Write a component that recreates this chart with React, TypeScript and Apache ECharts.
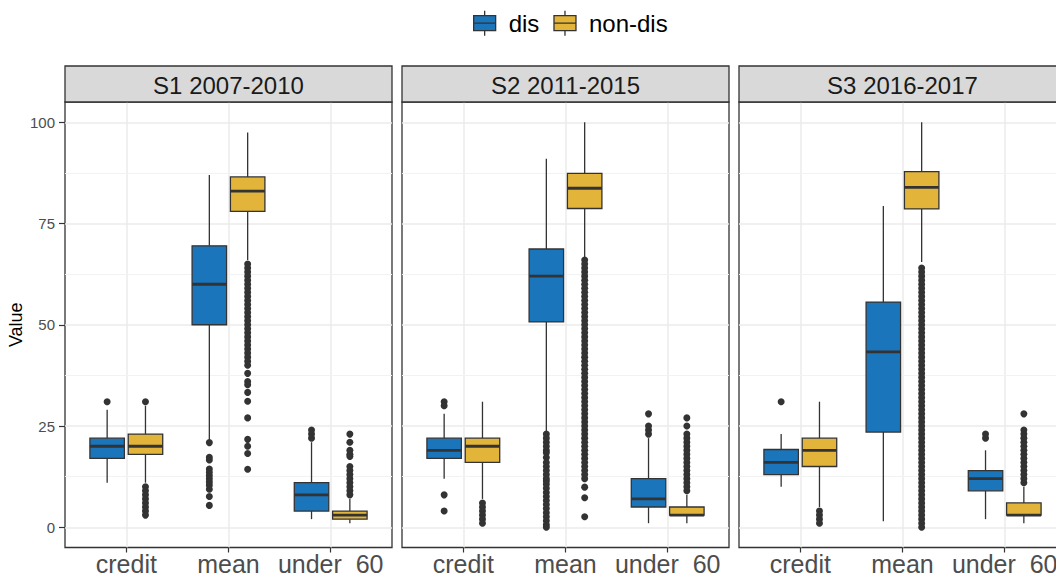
import React, { useEffect, useRef } from 'react';
import * as echarts from 'echarts';

// ---------- data ----------
const categories = ['credit', 'mean', 'under  60'];
const panelTitles = ['S1 2007-2010', 'S2 2011-2015', 'S3 2016-2017'];
const groupNames = ['dis', 'non-dis'];
const groupColors = ['#1B75BB', '#E3B43A'];
const yTicks = [0, 25, 50, 75, 100];
const yMinorTicks = [12.5, 37.5, 62.5, 87.5];
const xTicks = [1, 2, 3];

// box stats per category: [lower whisker, Q1, median, Q3, upper whisker]
const s1DisBoxes = [[11, 17, 20, 22, 29], [21.5, 50, 60, 69.5, 87], [2, 4, 8, 11, 21]];
const s1NonDisBoxes = [[11, 18, 20, 23, 30], [66, 78, 83, 86.5, 97.5], [1, 2, 3, 4, 7]];
const s2DisBoxes = [[12, 17, 19, 22, 28], [23.5, 50.7, 62, 68.7, 91], [1, 5, 7, 12, 22]];
const s2NonDisBoxes = [[7, 16, 20, 22, 31], [66.5, 78.7, 83.7, 87.4, 100], [1, 3, 3, 5, 8]];
const s3DisBoxes = [[10, 13, 16, 19.2, 23], [1.5, 23.5, 43.3, 55.6, 79.3], [2, 9, 12, 14, 19]];
const s3NonDisBoxes = [[5, 15, 19, 22, 31], [65.5, 78.6, 83.9, 87.8, 100], [1, 3, 3, 6, 10]];

// outliers per category
const s1DisOutliers = [
  [31],
  [20.9, 17.3, 16.6, 14.4, 13.6, 12.8, 12, 11.2, 10.4, 9.4, 7.6, 5.4],
  [22, 23, 24],
];
const s1NonDisOutliers = [
  [31, 10, 9, 8, 7, 6, 5, 4, 3],
  [65, 64, 63, 62, 61, 60, 59, 58, 57, 56, 55, 54, 53, 52, 51, 50, 49, 48, 47, 46, 45, 44, 43,
    42, 41, 40, 38, 36, 35.2, 33.3, 31.1, 27, 21.7, 20, 18.2, 14.3],
  [8, 9, 10, 11, 12, 13, 14, 15, 17.5, 18, 19, 21, 23],
];
const s2DisOutliers = [
  [31, 30, 8, 4],
  [23, 22, 21, 20, 19, 18.4, 17.2, 16, 15, 14, 13, 12, 11.4, 10.6, 9.6, 8.6, 7.6, 6.6, 5.6, 4.6, 3.6, 2.6, 1.6, 0.6, 0],
  [23, 24, 25, 28],
];
const s2NonDisOutliers = [
  [6, 5, 4, 3, 2, 1],
  [66, 65, 64, 63, 62, 61, 60, 59, 58, 57, 56, 55, 54, 53, 52, 51, 50, 49, 48, 47, 46, 45, 44, 43, 42, 41, 40,
    39, 38, 37, 36, 35, 34, 33, 32, 31, 30, 29, 28, 27, 26, 25, 24, 23, 22, 21, 20, 19, 18, 17, 16, 15, 14, 13, 12,
    9.9, 7.3, 2.6],
  [9, 10, 11, 12, 13, 14, 15, 16, 17, 18, 19, 20, 21, 22, 23, 25, 27],
];
const s3DisOutliers = [
  [31],
  [],
  [22, 23],
];
const s3NonDisOutliers = [
  [4, 3, 2, 1],
  [64, 63, 62, 61, 60, 59, 58, 57, 56, 55, 54, 53, 52, 51, 50, 49, 48, 47, 46, 45, 44, 43, 42, 41, 40,
    39, 38, 37, 36, 35, 34, 33, 32, 31, 30, 29, 28, 27, 26, 25, 24, 23, 22, 21, 20, 19, 18, 17, 16, 15, 14, 13, 12,
    11, 10, 9, 8, 7, 6, 5, 4, 3, 2, 1, 0],
  [11, 12, 13, 14, 15, 16, 17, 18, 19, 20, 21, 22, 23, 24, 28],
];

const boxesByPanel = [
  [s1DisBoxes, s1NonDisBoxes],
  [s2DisBoxes, s2NonDisBoxes],
  [s3DisBoxes, s3NonDisBoxes],
];
const outliersByPanel = [
  [s1DisOutliers, s1NonDisOutliers],
  [s2DisOutliers, s2NonDisOutliers],
  [s3DisOutliers, s3NonDisOutliers],
];

// ---------- layout / style ----------
const FONT = "'Liberation Sans', Arial, Helvetica, sans-serif";
const GRID_LEFTS = [65, 402, 739];
const GRID_TOP = 102;
const GRID_W = 327;
const GRID_H = 445.5;
const STRIP_TOP = 66;
const STRIP_H = 36;
const DODGE = 0.1875;
const HALF_BOX = 0.16875;
const INK = '#333333';

const LEGEND_ICON = 'path://M11 0 L11 5 M11 20 L11 25 M0 5 L22 5 L22 20 L0 20 Z M0 12.5 L22 12.5';

function renderBox(color: string) {
  return (params: any, api: any) => {
    const x = api.value(0);
    const lo = api.coord([x, api.value(1)]);
    const q1 = api.coord([x, api.value(2)]);
    const md = api.coord([x, api.value(3)]);
    const q3 = api.coord([x, api.value(4)]);
    const hi = api.coord([x, api.value(5)]);
    const left = api.coord([x - HALF_BOX, 0])[0];
    const right = api.coord([x + HALF_BOX, 0])[0];
    const lineStyle = { stroke: INK, lineWidth: 1.3 };
    return {
      type: 'group',
      children: [
        { type: 'line', shape: { x1: lo[0], y1: lo[1], x2: q1[0], y2: q1[1] }, style: lineStyle },
        { type: 'line', shape: { x1: q3[0], y1: q3[1], x2: hi[0], y2: hi[1] }, style: lineStyle },
        {
          type: 'rect',
          shape: { x: left, y: q3[1], width: right - left, height: q1[1] - q3[1] },
          style: { fill: color, stroke: INK, lineWidth: 1.3 },
        },
        { type: 'line', shape: { x1: left, y1: md[1], x2: right, y2: md[1] }, style: { stroke: INK, lineWidth: 2.8 } },
      ],
    };
  };
}

function buildOption() {
  const grid = GRID_LEFTS.map((l) => ({
    left: l,
    top: GRID_TOP,
    width: GRID_W,
    height: GRID_H,
    show: true,
    backgroundColor: '#FFFFFF',
    borderColor: INK,
    borderWidth: 1.3,
    containLabel: false,
    outerBoundsMode: 'none',
  }));

  const xAxis = GRID_LEFTS.map((_, i) => ({
    type: 'value',
    gridIndex: i,
    position: 'bottom',
    min: 0.4,
    max: 3.6,
    axisLine: { show: false, onZero: false },
    axisTick: { show: true, customValues: xTicks, length: 5, lineStyle: { color: INK, width: 1.2 } },
    axisLabel: {
      customValues: xTicks,
      formatter: (v: number) => categories[Math.round(v) - 1],
      fontSize: 25,
      color: '#4D4D4D',
      fontFamily: FONT,
      margin: 4,
    },
    splitLine: { show: true, lineStyle: { color: '#EBEBEB', width: 1.5 } },
  }));

  const yAxis = GRID_LEFTS.map((_, i) => ({
    type: 'value',
    gridIndex: i,
    position: 'left',
    min: -5,
    max: 105,
    axisLine: { show: false, onZero: false },
    axisTick: { show: i === 0, customValues: yTicks, length: 6, lineStyle: { color: INK, width: 1.2 } },
    axisLabel: { show: i === 0, customValues: yTicks, fontSize: 15, color: '#4D4D4D', fontFamily: FONT, margin: 10 },
    splitLine: { show: true, lineStyle: { color: '#EBEBEB', width: 1.5 } },
    name: i === 0 ? 'Value' : '',
    nameLocation: 'middle',
    nameGap: 40,
    nameRotate: 90,
    nameTextStyle: { fontSize: 18, color: '#000000', fontFamily: FONT },
  }));

  const series: any[] = [];
  boxesByPanel.forEach((groups, p) => {
    groups.forEach((boxes, g) => {
      const offset = g === 0 ? -DODGE : DODGE;
      const s: any = {
        type: 'custom',
        name: groupNames[g],
        xAxisIndex: p,
        yAxisIndex: p,
        data: boxes.map((b, i) => [i + 1 + offset, ...b]),
        encode: { x: 0, y: [1, 2, 3, 4, 5] },
        renderItem: renderBox(groupColors[g]),
        itemStyle: { color: groupColors[g] },
        silent: true,
        z: 3,
      };
      if (g === 0) {
        s.markLine = {
          silent: true,
          symbol: 'none',
          z: 1,
          label: { show: false },
          lineStyle: { color: '#F2F2F2', width: 1, type: 'solid' },
          data: yMinorTicks.map((v) => ({ yAxis: v })),
        };
      }
      series.push(s);
      const outs = outliersByPanel[p][g];
      const pts: number[][] = [];
      outs.forEach((arr, i) => arr.forEach((v) => pts.push([i + 1 + offset, v])));
      series.push({
        type: 'scatter',
        name: groupNames[g] + ' outliers',
        xAxisIndex: p,
        yAxisIndex: p,
        data: pts,
        symbol: 'circle',
        symbolSize: 7,
        itemStyle: { color: INK, opacity: 1 },
        silent: true,
        z: 4,
      });
    });
  });

  const graphic: any[] = [];
  GRID_LEFTS.forEach((l, i) => {
    graphic.push({
      type: 'rect',
      shape: { x: l, y: STRIP_TOP, width: GRID_W, height: STRIP_H },
      style: { fill: '#D9D9D9', stroke: INK, lineWidth: 1.3 },
      z: 10,
    });
    graphic.push({
      type: 'text',
      x: l + GRID_W / 2,
      y: STRIP_TOP + STRIP_H / 2 + 1,
      style: {
        text: panelTitles[i],
        fontSize: 24,
        fontWeight: 'normal',
        fontFamily: FONT,
        fill: '#1A1A1A',
        align: 'center',
        verticalAlign: 'middle',
        textAlign: 'center',
        textVerticalAlign: 'middle',
      },
      z: 11,
    });
  });

  return {
    animation: false,
    backgroundColor: '#FFFFFF',
    textStyle: { fontFamily: FONT },
    legend: {
      left: 473,
      top: 10,
      padding: 0,
      itemWidth: 22,
      itemHeight: 25,
      itemGap: 14,
      selectedMode: false,
      textStyle: { fontSize: 24, color: '#000000', fontFamily: FONT, padding: [0, 0, 0, 8] },
      data: groupNames.map((n, g) => ({
        name: n,
        icon: LEGEND_ICON,
        itemStyle: { color: groupColors[g], borderColor: INK, borderWidth: 1.3 },
      })),
    },
    grid,
    xAxis,
    yAxis,
    series,
    graphic,
  };
}

export default function App() {
  const ref = useRef<HTMLDivElement>(null);
  useEffect(() => {
    document.body.style.margin = '0';
    const chart = echarts.init(ref.current as HTMLDivElement, null, { renderer: 'svg' });
    chart.setOption(buildOption() as any);
    return () => chart.dispose();
  }, []);
  return <div ref={ref} style={{ width: 1056, height: 576 }} />;
}
